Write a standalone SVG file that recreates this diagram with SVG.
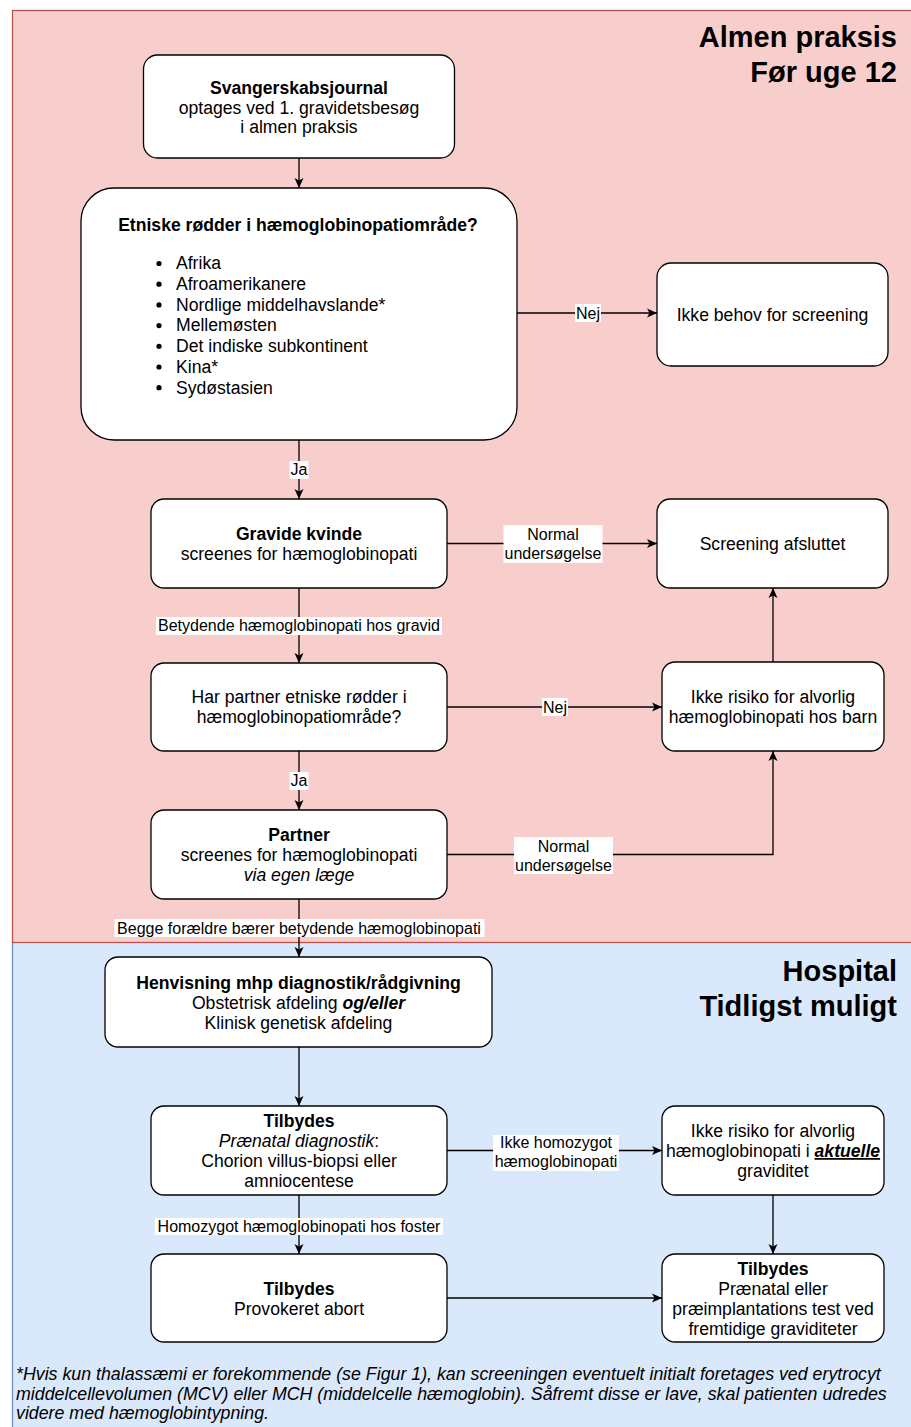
<svg xmlns="http://www.w3.org/2000/svg" width="911" height="1427" viewBox="0 0 911 1427">
<defs>
<style>
text{font-family:"Liberation Sans",Arial,Helvetica,sans-serif;fill:#000}
.n{fill:#fff;stroke:#000;stroke-width:1.3}
.t{font-size:17.6px;text-anchor:middle}
.b{font-weight:bold}
.i{font-style:italic}
.l{font-size:16px;text-anchor:middle}
.lb{fill:#fff;stroke:none}
.e{fill:none;stroke:#000;stroke-width:1.3;marker-end:url(#arr)}
.h{font-size:29px;font-weight:bold;text-anchor:end}
.f{font-size:17.8px;font-style:italic}
</style>
<marker id="arr" viewBox="0 0 12 12" refX="11" refY="6" markerWidth="12" markerHeight="12" markerUnits="userSpaceOnUse" orient="auto"><path d="M1,1.5 L11,6 L1,10.5 L3.5,6 Z" fill="#000"/></marker>
</defs>

<g id="zone-hospital">
<rect x="12.5" y="942" width="910" height="500" fill="#dae8fc" stroke="#6c8ebf" stroke-width="1.3"/>
<text class="h" x="897" y="981">Hospital</text>
<text class="h" x="897" y="1016">Tidligst muligt</text>
</g>
<g id="zone-almen">
<rect x="12.5" y="10.5" width="910" height="932" fill="#f8cecc" stroke="#b85450" stroke-width="1.3"/>
<text class="h" x="897" y="47">Almen praksis</text>
<text class="h" x="897" y="82">Før uge 12</text>
</g>

<g id="connectors">
<path class="e" d="M299,158 L299,188"/>
<path class="e" d="M517,313 L657,313"/>
<path class="e" d="M299,440 L299,499"/>
<path class="e" d="M447,543.5 L657,543.5"/>
<path class="e" d="M299,588 L299,663"/>
<path class="e" d="M447,707 L662,707"/>
<path class="e" d="M773,662 L773,588"/>
<path class="e" d="M299,751 L299,810"/>
<path class="e" d="M447,854.5 L773,854.5 L773,751"/>
<path class="e" d="M299,899 L299,957"/>
<path class="e" d="M299,1047 L299,1106"/>
<path class="e" d="M447,1150.5 L662,1150.5"/>
<path class="e" d="M299,1195 L299,1254"/>
<path class="e" d="M773,1195 L773,1254"/>
<path class="e" d="M447,1298 L662,1298"/>

<rect class="lb" x="575" y="304" width="26" height="18"/>
<text class="l" x="588" y="318.5">Nej</text>
<rect class="lb" x="289.5" y="461" width="19" height="18"/>
<text class="l" x="299" y="475">Ja</text>
<rect class="lb" x="503.5" y="525" width="99" height="38"/>
<text class="l" x="553" y="540">Normal</text>
<text class="l" x="553" y="559">undersøgelse</text>
<rect class="lb" x="156" y="617" width="286" height="18"/>
<text class="l" x="299" y="631">Betydende hæmoglobinopati hos gravid</text>
<rect class="lb" x="542" y="698" width="26" height="18"/>
<text class="l" x="555" y="712.5">Nej</text>
<rect class="lb" x="289.5" y="772" width="19" height="18"/>
<text class="l" x="299" y="786">Ja</text>
<rect class="lb" x="514" y="837" width="99" height="37"/>
<text class="l" x="563.5" y="852">Normal</text>
<text class="l" x="563.5" y="871">undersøgelse</text>
<rect class="lb" x="114.5" y="919" width="370" height="18"/>
<text class="l" x="299" y="933.5">Begge forældre bærer betydende hæmoglobinopati</text>
<rect class="lb" x="493" y="1135" width="126" height="36"/>
<text class="l" x="556" y="1147.5">Ikke homozygot</text>
<text class="l" x="556" y="1167">hæmoglobinopati</text>
<rect class="lb" x="155" y="1218" width="288" height="17"/>
<text class="l" x="299" y="1232">Homozygot hæmoglobinopati hos foster</text>
</g>

<g id="node-svangerskab">
<rect class="n" x="143.5" y="55" width="311" height="103" rx="14"/>
<text class="t b" x="299" y="94">Svangerskabsjournal</text>
<text class="t" x="299" y="114">optages ved 1. gravidetsbesøg</text>
<text class="t" x="299" y="133">i almen praksis</text>
</g>

<g id="node-etniske">
<rect class="n" x="81" y="188" width="436" height="252" rx="33"/>
<text class="t b" x="298" y="231">Etniske rødder i hæmoglobinopatiområde?</text>
<g font-size="17.6">
<circle cx="159" cy="263.5" r="2.6"/><text x="176" y="269.3">Afrika</text>
<circle cx="159" cy="284.2" r="2.6"/><text x="176" y="290">Afroamerikanere</text>
<circle cx="159" cy="304.9" r="2.6"/><text x="176" y="310.7">Nordlige middelhavslande*</text>
<circle cx="159" cy="325.6" r="2.6"/><text x="176" y="331.4">Mellemøsten</text>
<circle cx="159" cy="346.3" r="2.6"/><text x="176" y="352.1">Det indiske subkontinent</text>
<circle cx="159" cy="367" r="2.6"/><text x="176" y="372.8">Kina*</text>
<circle cx="159" cy="387.7" r="2.6"/><text x="176" y="393.5">Sydøstasien</text>
</g>
</g>

<g id="node-ikke-behov">
<rect class="n" x="657" y="263" width="231" height="103" rx="14"/>
<text class="t" x="772.5" y="320.5">Ikke behov for screening</text>
</g>

<g id="node-gravide">
<rect class="n" x="151" y="499" width="296" height="89" rx="13"/>
<text class="t b" x="299" y="540">Gravide kvinde</text>
<text class="t" x="299" y="560">screenes for hæmoglobinopati</text>
</g>

<g id="node-screening-afsluttet">
<rect class="n" x="657" y="499" width="231" height="89" rx="13"/>
<text class="t" x="772.5" y="549.5">Screening afsluttet</text>
</g>

<g id="node-har-partner">
<rect class="n" x="151" y="663" width="296" height="88" rx="13"/>
<text class="t" x="299" y="703">Har partner etniske rødder i</text>
<text class="t" x="299" y="723">hæmoglobinopatiområde?</text>
</g>

<g id="node-ikke-risiko-barn">
<rect class="n" x="662" y="662" width="222" height="89" rx="13"/>
<text class="t" x="773" y="702.5">Ikke risiko for alvorlig</text>
<text class="t" x="773" y="722.5">hæmoglobinopati hos barn</text>
</g>

<g id="node-partner">
<rect class="n" x="151" y="810" width="296" height="89" rx="13"/>
<text class="t b" x="299" y="841">Partner</text>
<text class="t" x="299" y="861">screenes for hæmoglobinopati</text>
<text class="t i" x="299" y="881">via egen læge</text>
</g>

<g id="node-henvisning">
<rect class="n" x="105" y="957" width="387" height="90" rx="13"/>
<text class="t b" x="298.5" y="989">Henvisning mhp diagnostik/rådgivning</text>
<text class="t" x="298.5" y="1009">Obstetrisk afdeling <tspan font-weight="bold" font-style="italic">og/eller</tspan></text>
<text class="t" x="298.5" y="1029">Klinisk genetisk afdeling</text>
</g>

<g id="node-tilbydes-diagnostik">
<rect class="n" x="151" y="1106" width="296" height="89" rx="13"/>
<text class="t b" x="299" y="1127">Tilbydes</text>
<text class="t" x="299" y="1147"><tspan font-style="italic">Prænatal diagnostik</tspan>:</text>
<text class="t" x="299" y="1167">Chorion villus-biopsi eller</text>
<text class="t" x="299" y="1187">amniocentese</text>
</g>

<g id="node-ikke-risiko-aktuelle">
<rect class="n" x="662" y="1106" width="222" height="89" rx="13"/>
<text class="t" x="773" y="1137">Ikke risiko for alvorlig</text>
<text class="t" x="773" y="1157">hæmoglobinopati i <tspan font-weight="bold" font-style="italic" text-decoration="underline">aktuelle</tspan></text>
<text class="t" x="773" y="1177">graviditet</text>
</g>

<g id="node-abort">
<rect class="n" x="151" y="1254" width="296" height="88" rx="13"/>
<text class="t b" x="299" y="1295">Tilbydes</text>
<text class="t" x="299" y="1315">Provokeret abort</text>
</g>

<g id="node-fremtidige">
<rect class="n" x="662" y="1254" width="222" height="88" rx="13"/>
<text class="t b" x="773" y="1275">Tilbydes</text>
<text class="t" x="773" y="1295">Prænatal eller</text>
<text class="t" x="773" y="1315">præimplantations test ved</text>
<text class="t" x="773" y="1335">fremtidige graviditeter</text>
</g>

<g id="footnote">
<text class="f" x="16" y="1380">*Hvis kun thalassæmi er forekommende (se Figur 1), kan screeningen eventuelt initialt foretages ved erytrocyt</text>
<text class="f" x="16" y="1400">middelcellevolumen (MCV) eller MCH (middelcelle hæmoglobin). Såfremt disse er lave, skal patienten udredes</text>
<text class="f" x="16" y="1419">videre med hæmoglobintypning.</text>
</g>
</svg>
